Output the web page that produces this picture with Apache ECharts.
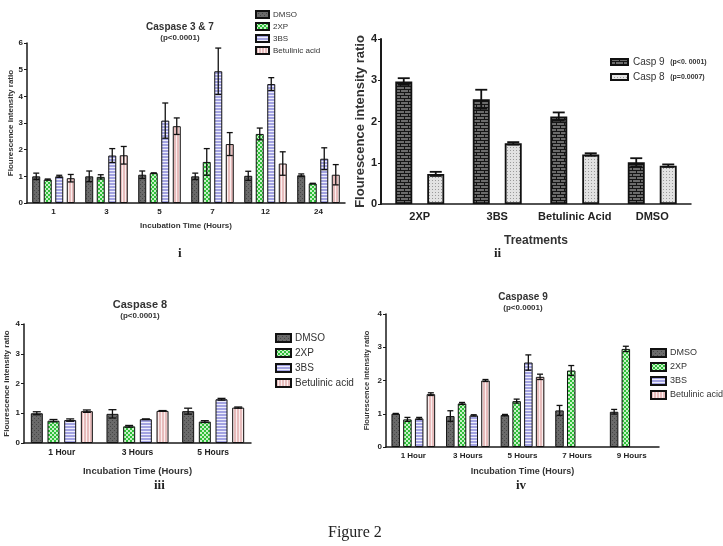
<!DOCTYPE html>
<html lang="en">
<head>
    <meta charset="UTF-8">
    <title>Figure 2</title>
    <script src="https://cdn.jsdelivr.net/npm/echarts@6/dist/echarts.min.js"></script>
</head>
<body style="margin:0;background:#fff;">
<div id="fig" style="width: 723px;height: 546px;"></div>
<script>
    // ---- data ----
    // panel i : Caspase 3 & 7
    var hoursI = ['1', '3', '5', '7', '12', '24'];
    var dmsoI = [1.0, 1.0, 1.06, 1.0, 1.02, 1.04];
    var dmsoErrI = [0.12, 0.2, 0.14, 0.12, 0.17, 0.05];
    var xpI = [0.88, 0.98, 1.12, 1.54, 2.59, 0.73];
    var xpErrI = [0.02, 0.08, 0.01, 0.5, 0.22, 0.01];
    var bsI = [1.0, 1.78, 3.09, 4.94, 4.46, 1.66];
    var bsErrI = [0.04, 0.26, 0.66, 0.87, 0.24, 0.41];
    var betI = [0.93, 1.79, 2.88, 2.21, 1.48, 1.06];
    var betErrI = [0.14, 0.33, 0.31, 0.43, 0.44, 0.38];

    // panel ii : Casp 9 / Casp 8 by treatment
    var treatments = ['2XP', '3BS', 'Betulinic Acid', 'DMSO'];
    var casp9 = [2.97, 2.54, 2.12, 1.01];
    var casp9Err = [0.08, 0.23, 0.1, 0.1];
    var casp8 = [0.73, 1.47, 1.2, 0.93];
    var casp8Err = [0.05, 0.03, 0.03, 0.03];

    // panel iii : Caspase 8
    var hoursIII = ['1 Hour', '3 Hours', '5 Hours'];
    var dmsoIII = [1.0, 0.98, 1.07];
    var dmsoErrIII = [0.05, 0.14, 0.1];
    var xpIII = [0.75, 0.56, 0.72];
    var xpErrIII = [0.04, 0.03, 0.03];
    var bsIII = [0.77, 0.8, 1.47];
    var bsErrIII = [0.04, 0.01, 0.03];
    var betIII = [1.07, 1.08, 1.19];
    var betErrIII = [0.04, 0.01, 0.02];

    // panel iv : Caspase 9
    var hoursIV = ['1 Hour', '3 Hours', '5 Hours', '7 Hours', '9 Hours'];
    var dmsoIV = [1.0, 0.93, 0.96, 1.1, 1.06];
    var dmsoErrIV = [0.01, 0.16, 0.02, 0.15, 0.07];
    var xpIV = [0.83, 1.31, 1.38, 2.3, 2.95];
    var xpErrIV = [0.06, 0.03, 0.06, 0.15, 0.08];
    var bsIV = [0.86, 0.95, 2.54, null, null];
    var bsErrIV = [0.03, 0.02, 0.23, null, null];
    var betIV = [1.59, 2.0, 2.11, null, null];
    var betErrIV = [0.04, 0.03, 0.08, null, null];

    var groupNames = ['DMSO', '2XP', '3BS', 'Betulinic acid'];

    // ---- fill patterns ----
    function makePattern(w, h, draw) {
        var c = document.createElement('canvas');
        c.width = w;
        c.height = h;
        draw(c.getContext('2d'));
        return {image: c, repeat: 'repeat'};
    }
    var dmsoFill = makePattern(4, 4, function (g) {
        g.fillStyle = '#6a6a6a'; g.fillRect(0, 0, 4, 4);
        g.fillStyle = '#474747'; g.fillRect(0, 0, 1, 1); g.fillRect(2, 2, 1, 1);
    });
    var xpFill = makePattern(4, 4, function (g) {
        g.fillStyle = '#2fbf3a'; g.fillRect(0, 0, 4, 4);
        g.fillStyle = '#c8f2c8'; g.fillRect(0, 0, 2, 2); g.fillRect(2, 2, 2, 2);
    });
    var bsFill = makePattern(4, 3, function (g) {
        g.fillStyle = '#a3a3e2'; g.fillRect(0, 0, 4, 3);
        g.fillStyle = '#eeeefb'; g.fillRect(0, 2, 4, 1);
    });
    var betFill = makePattern(3, 4, function (g) {
        g.fillStyle = '#e7bcbc'; g.fillRect(0, 0, 3, 4);
        g.fillStyle = '#faeeee'; g.fillRect(2, 0, 1, 4);
    });
    var c9Fill = makePattern(8, 6, function (g) {
        g.fillStyle = '#6c6c6c'; g.fillRect(0, 0, 8, 6);
        g.fillStyle = '#151515';
        g.fillRect(0, 2, 8, 1); g.fillRect(0, 5, 8, 1);
        g.fillRect(0, 0, 1, 2); g.fillRect(4, 3, 1, 2);
    });
    var c8Fill = makePattern(3, 3, function (g) {
        g.fillStyle = '#e2e2e2'; g.fillRect(0, 0, 3, 3);
        g.fillStyle = '#9a9a9a'; g.fillRect(0, 0, 1, 1);
    });
    var fills = [dmsoFill, xpFill, bsFill, betFill];

    var axisColor = '#1a1a1a';
    var fontSans = 'Liberation Sans';

    function barSeries(name, data, fill, xi, bw, gap, bdw) {
        return {
            name: name,
            type: 'bar',
            xAxisIndex: xi,
            yAxisIndex: xi,
            data: data,
            barWidth: bw,
            barGap: gap,
            itemStyle: {color: fill, borderColor: '#111', borderWidth: bdw},
            emphasis: {disabled: true}
        };
    }

    // error bars drawn with the axis scales, shifted to the bar slot
    function errSeries(vals, errs, xi, offset, cap, lw) {
        var d = [];
        for (var i = 0; i < vals.length; i++) {
            if (vals[i] != null) d.push([i, vals[i], errs[i]]);
        }
        return {
            type: 'custom',
            xAxisIndex: xi,
            yAxisIndex: xi,
            z: 5,
            silent: true,
            data: d,
            renderItem: function (params, api) {
                var x = api.value(0), v = api.value(1), e = api.value(2);
                var hi = api.coord([x, v + e]);
                var lo = api.coord([x, Math.max(0, v - e)]);
                var cx = hi[0] + offset;
                var st = {stroke: '#111', lineWidth: lw};
                return {
                    type: 'group',
                    children: [
                        {type: 'line', shape: {x1: cx, y1: hi[1], x2: cx, y2: lo[1]}, style: st},
                        {type: 'line', shape: {x1: cx - cap, y1: hi[1], x2: cx + cap, y2: hi[1]}, style: st},
                        {type: 'line', shape: {x1: cx - cap, y1: lo[1], x2: cx + cap, y2: lo[1]}, style: st}
                    ]
                };
            }
        };
    }

    function xAxisOf(gi, cats, nameText, nameGap, fs, nfs, margin) {
        return {
            type: 'category', gridIndex: gi, data: cats,
            name: nameText, nameLocation: 'middle', nameGap: nameGap,
            nameTextStyle: {fontFamily: fontSans, fontWeight: 'bold', fontSize: nfs, color: '#333'},
            axisLine: {lineStyle: {color: axisColor, width: 1.5}},
            axisTick: {alignWithLabel: true, interval: 0, length: 3, lineStyle: {color: axisColor}},
            axisLabel: {interval: 0, margin: margin, fontFamily: fontSans, fontWeight: 'bold', fontSize: fs, color: '#222'},
            splitLine: {show: false}
        };
    }
    function yAxisOf(gi, max, nameGap, fs, nfs, lw) {
        return {
            type: 'value', gridIndex: gi, min: 0, max: max, interval: 1,
            name: 'Flourescence intensity ratio', nameLocation: 'middle', nameGap: nameGap,
            nameTextStyle: {fontFamily: fontSans, fontWeight: 'bold', fontSize: nfs, color: '#333'},
            axisLine: {show: true, lineStyle: {color: axisColor, width: lw}},
            axisTick: {show: true, length: 3, lineStyle: {color: axisColor}},
            axisLabel: {margin: 4, fontFamily: fontSans, fontWeight: 'bold', fontSize: fs, color: '#222'},
            splitLine: {show: false}
        };
    }

    function legendOf(left, top, gap, fs, iw, ih) {
        return {
            data: groupNames, left: left, top: top, orient: 'vertical',
            itemWidth: iw, itemHeight: ih, itemGap: gap, selectedMode: false,
            icon: 'rect',
            textStyle: {fontFamily: fontSans, fontSize: fs, color: '#333', padding: [0, 0, 0, -1]}
        };
    }

    function titleOf(text, sub, cx, top, fs, sfs) {
        return {
            text: text, subtext: sub, left: cx, top: top, textAlign: 'center', itemGap: 2, padding: 0,
            textStyle: {fontFamily: fontSans, fontWeight: 'bold', fontSize: fs, color: '#333'},
            subtextStyle: {fontFamily: fontSans, fontWeight: 'bold', fontSize: sfs, color: '#333'}
        };
    }

    function panelSeries(xi, sets, bw, gapPx, cap, bdw, lw) {
        var out = [];
        var n = sets.length;
        var gapPct = Math.round(gapPx / bw * 100) + '%';
        for (var k = 0; k < n; k++) {
            out.push(barSeries(sets[k].name, sets[k].vals, sets[k].fill, xi, bw, gapPct, bdw));
        }
        for (var k2 = 0; k2 < n; k2++) {
            var off = (k2 - (n - 1) / 2) * (bw + gapPx);
            out.push(errSeries(sets[k2].vals, sets[k2].errs, xi, off, cap, lw));
        }
        return out;
    }

    function fourSets(a, ae, b, be, c, ce, d, de) {
        var v = [a, b, c, d], e = [ae, be, ce, de], s = [];
        for (var i = 0; i < 4; i++) s.push({name: groupNames[i], vals: v[i], errs: e[i], fill: fills[i]});
        return s;
    }

    var series = [].concat(
        panelSeries(0, fourSets(dmsoI, dmsoErrI, xpI, xpErrI, bsI, bsErrI, betI, betErrI), 8, 3.5, 3, 1, 1.3),
        panelSeries(1, [
            {name: 'Casp 9', vals: casp9, errs: casp9Err, fill: c9Fill},
            {name: 'Casp 8', vals: casp8, errs: casp8Err, fill: c8Fill}
        ], 17, 15, 6, 1.8, 1.8),
        panelSeries(2, fourSets(dmsoIII, dmsoErrIII, xpIII, xpErrIII, bsIII, bsErrIII, betIII, betErrIII), 12, 4.7, 4, 1, 1.3),
        panelSeries(3, fourSets(dmsoIV, dmsoErrIV, xpIV, xpErrIV, bsIV, bsErrIV, betIV, betErrIV), 8.5, 3.2, 3, 1, 1.3)
    );

    var myChart = echarts.init(document.getElementById('fig'), null, {renderer: 'canvas'});
    var option = {
        backgroundColor: '#fff',
        animation: false,
        title: [
            titleOf('Caspase 3 & 7', '(p<0.0001)', 180, 22, 10, 8),
            titleOf('Caspase 8', '(p<0.0001)', 140, 299, 11, 8),
            titleOf('Caspase 9', '(p<0.0001)', 523, 292, 10, 8)
        ],
        legend: [
            legendOf(250, 5, 3, 8, 13, 7),
            {
                data: ['Casp 9', 'Casp 8'], left: 605, top: 52, orient: 'vertical',
                itemWidth: 17, itemHeight: 6, itemGap: 5, selectedMode: false, icon: 'rect',
                formatter: function (name) {
                    return name === 'Casp 9' ? name + '  {p|(p<0. 0001)}' : name + '  {p|(p=0.0007)}';
                },
                textStyle: {
                    fontFamily: fontSans, fontSize: 10, color: '#333',
                    rich: {p: {fontFamily: fontSans, fontSize: 7, fontWeight: 'bold', color: '#333'}}
                }
            },
            legendOf(270, 328, 5, 10, 15, 8),
            legendOf(645, 343, 4, 9, 15, 8)
        ],
        grid: [
            {left: 27, top: 43, width: 318, height: 160, outerBoundsMode: 'none'},
            {left: 381, top: 39, width: 310, height: 165, outerBoundsMode: 'none'},
            {left: 24, top: 324, width: 227, height: 119, outerBoundsMode: 'none'},
            {left: 386, top: 314, width: 273, height: 133, outerBoundsMode: 'none'}
        ],
        xAxis: [
            xAxisOf(0, hoursI, 'Incubation Time (Hours)', 19, 8, 8, 5),
            xAxisOf(1, treatments, 'Treatments', 31, 11, 12, 7),
            xAxisOf(2, hoursIII, 'Incubation Time (Hours)', 23, 8.5, 9.5, 5),
            xAxisOf(3, hoursIV, 'Incubation Time (Hours)', 20, 8, 9, 5)
        ],
        yAxis: [
            yAxisOf(0, 6, 12, 8, 8, 1.5),
            yAxisOf(1, 4, 14, 11, 13, 2),
            yAxisOf(2, 4, 13, 8, 8, 1.5),
            yAxisOf(3, 4, 15, 8, 7.5, 1.5)
        ],
        graphic: [
            {type: 'text', left: 178, top: 247, style: {text: 'i', font: 'bold 13px "Liberation Serif"', fill: '#222'}},
            {type: 'text', left: 494, top: 247, style: {text: 'ii', font: 'bold 13px "Liberation Serif"', fill: '#222'}},
            {type: 'text', left: 154, top: 479, style: {text: 'iii', font: 'bold 13px "Liberation Serif"', fill: '#222'}},
            {type: 'text', left: 516, top: 479, style: {text: 'iv', font: 'bold 13px "Liberation Serif"', fill: '#222'}},
            {type: 'text', left: 328, top: 525, style: {text: 'Figure 2', font: '16px "Liberation Serif"', fill: '#222'}}
        ],
        series: series
    };
    myChart.setOption(option);
</script>
</body>
</html>
